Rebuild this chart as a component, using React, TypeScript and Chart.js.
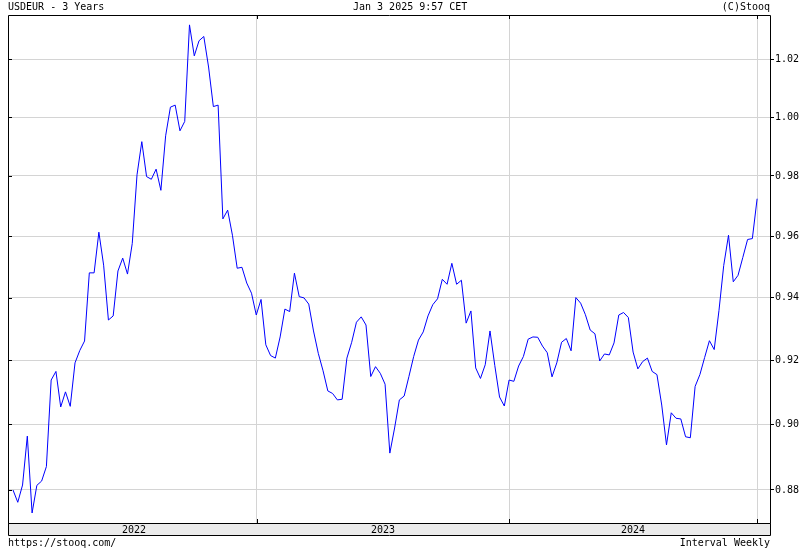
import React, { useEffect, useRef } from 'react';
import { Chart, registerables } from 'chart.js';

Chart.register(...registerables);

// ---- texts ----
const titleText = 'USDEUR - 3 Years';
const stampText = 'Jan 3 2025 9:57 CET';
const copyrightText = '(C)Stooq';
const sourceText = 'https://stooq.com/';
const intervalText = 'Interval Weekly';

// ---- weekly closes (week index 0 = first week of Jan 2022) ----
const weeks2022 = [
  0.8800, 0.8763, 0.8815, 0.8964, 0.8731, 0.8814, 0.8827, 0.8871, 0.9138, 0.9165,
  0.9054, 0.9101, 0.9056, 0.9192, 0.9231, 0.9261, 0.9480, 0.9480, 0.9613, 0.9505,
  0.9328, 0.9341, 0.9486, 0.9528, 0.9476, 0.9576, 0.9804, 0.9916, 0.9798, 0.9789,
  0.9823, 0.9752, 0.9936, 1.0034, 1.0041, 0.9953, 0.9985, 1.0321, 1.0212, 1.0265,
  1.0280, 1.0173, 1.0036, 1.0041, 0.9657, 0.9686, 0.9603, 0.9495, 0.9498, 0.9447,
  0.9414, 0.9344,
];
const weeks2023 = [
  0.9394, 0.9249, 0.9215, 0.9207, 0.9274, 0.9363, 0.9355, 0.9479, 0.9403, 0.9399,
  0.9379, 0.9293, 0.9222, 0.9167, 0.9104, 0.9096, 0.9076, 0.9078, 0.9207, 0.9257,
  0.9321, 0.9338, 0.9312, 0.9149, 0.9180, 0.9159, 0.9125, 0.8912, 0.8989, 0.9076,
  0.9088, 0.9149, 0.9212, 0.9264, 0.9290, 0.9341, 0.9377, 0.9396, 0.9459, 0.9443,
  0.9511, 0.9443, 0.9456, 0.9318, 0.9357, 0.9176, 0.9143, 0.9186, 0.9293, 0.9184,
  0.9085, 0.9057,
];
const weeks2024 = [
  0.9138, 0.9134, 0.9182, 0.9212, 0.9267, 0.9274, 0.9273, 0.9245, 0.9224, 0.9148,
  0.9192, 0.9257, 0.9269, 0.9230, 0.9400, 0.9382, 0.9345, 0.9296, 0.9284, 0.9198,
  0.9220, 0.9217, 0.9255, 0.9344, 0.9352, 0.9336, 0.9226, 0.9173, 0.9196, 0.9207,
  0.9165, 0.9155, 0.9060, 0.8937, 0.9036, 0.9019, 0.9017, 0.8962, 0.8959, 0.9118,
  0.9155, 0.9209, 0.9262, 0.9234, 0.9358, 0.9504, 0.9603, 0.9451, 0.9472, 0.9530,
  0.9589, 0.9592, 0.9724,
];
const usdeur = [...weeks2022, ...weeks2023, ...weeks2024];

// ---- axes ----
const yTicks = [0.88, 0.9, 0.92, 0.94, 0.96, 0.98, 1.0, 1.02];
const yMin = 0.8701;
const yMax = 1.0356;
const yearLabels = ['2022', '2023', '2024'];
const yearBounds = [-0.4, 51.15, 104, 156]; // week index where each year starts / ends
const xMin = -1.05;
const xMax = 158.7;

const FONT_FAMILY = '"DejaVu Sans Mono", "Liberation Mono", monospace';

export default function App() {
  const ref = useRef<HTMLCanvasElement>(null);

  useEffect(() => {
    const canvas = ref.current;
    if (!canvas) return;
    const font = `10px ${FONT_FAMILY}`;

    const framePlugin = {
      id: 'stooqFrame',
      beforeDraw(chart: any) {
        const ctx = chart.ctx;
        const a = chart.chartArea;
        ctx.save();
        ctx.fillStyle = '#ffffff';
        ctx.fillRect(0, 0, chart.width, chart.height);
        ctx.fillStyle = '#ebebeb';
        ctx.fillRect(a.left, a.bottom, a.right - a.left, 12);
        ctx.restore();
      },
      afterDraw(chart: any) {
        const ctx = chart.ctx;
        const a = chart.chartArea;
        const xs = chart.scales.x;
        const ys = chart.scales.y;
        ctx.save();
        ctx.strokeStyle = '#000000';
        ctx.lineWidth = 1;
        ctx.beginPath();
        ctx.rect(a.left + 0.5, a.top + 0.5, a.right - a.left, a.bottom - a.top);
        ctx.rect(a.left + 0.5, a.bottom + 0.5, a.right - a.left, 12);
        for (const v of yTicks) {
          const y = Math.round(ys.getPixelForValue(v)) + 0.5;
          ctx.moveTo(a.left, y);
          ctx.lineTo(a.left + 4, y);
        }
        for (const b of yearBounds.slice(1)) {
          const x = Math.round(xs.getPixelForValue(b)) + 0.5;
          ctx.moveTo(x, a.top);
          ctx.lineTo(x, a.top + 4);
          ctx.moveTo(x, a.bottom);
          ctx.lineTo(x, a.bottom - 4);
        }
        ctx.stroke();

        ctx.fillStyle = '#000000';
        ctx.font = font;
        ctx.textBaseline = 'middle';
        // year labels in the band
        ctx.textAlign = 'center';
        yearLabels.forEach((lab, i) => {
          const mid = (yearBounds[i] + yearBounds[i + 1]) / 2;
          ctx.fillText(lab, xs.getPixelForValue(mid), a.bottom + 7);
        });
        // header
        ctx.textAlign = 'left';
        ctx.fillText(titleText, a.left, 7);
        ctx.fillText(stampText, 353, 7);
        ctx.textAlign = 'right';
        ctx.fillText(copyrightText, a.right, 7);
        // footer
        ctx.textAlign = 'left';
        ctx.fillText(sourceText, a.left, 543);
        ctx.textAlign = 'right';
        ctx.fillText(intervalText, a.right, 543);
        ctx.restore();
      },
    };

    const chart = new Chart(canvas, {
      type: 'line',
      data: {
        datasets: [
          {
            data: usdeur.map((v, i) => ({ x: i, y: v })),
            borderColor: '#0000ff',
            borderWidth: 1,
            pointRadius: 0,
            tension: 0,
            fill: false,
          },
        ],
      },
      options: {
        responsive: false,
        animation: false,
        devicePixelRatio: 1,
        events: [],
        layout: { padding: { left: 8, top: 15, right: 0, bottom: 27 } },
        plugins: { legend: { display: false }, tooltip: { enabled: false } },
        scales: {
          x: {
            type: 'linear',
            min: xMin,
            max: xMax,
            bounds: 'data',
            border: { display: false },
            grid: { color: '#d4d4d4', drawTicks: false },
            ticks: { display: false },
            afterBuildTicks: (s: any) => {
              s.ticks = yearBounds.slice(1).map((v) => ({ value: v }));
            },
            afterFit: (s: any) => {
              s.height = 0;
            },
          },
          y: {
            type: 'logarithmic',
            position: 'right',
            min: yMin,
            max: yMax,
            bounds: 'data',
            border: { display: false },
            grid: { color: '#d4d4d4', tickColor: '#000000', tickLength: 4 },
            ticks: {
              color: '#000000',
              padding: 1,
              autoSkip: false,
              font: { family: FONT_FAMILY, size: 10 },
              callback: (v: any) => Number(v).toFixed(2),
            },
            afterBuildTicks: (s: any) => {
              s.ticks = yTicks.map((v) => ({ value: v }));
            },
            afterFit: (s: any) => {
              s.width = 30;
            },
          },
        },
      } as any,
      plugins: [framePlugin],
    });

    return () => chart.destroy();
  }, []);

  return (
    <div style={{ position: 'fixed', left: 0, top: 0, width: 800, height: 550, background: '#fff' }}>
      <canvas ref={ref} width={800} height={550} style={{ display: 'block', width: 800, height: 550 }} />
    </div>
  );
}
